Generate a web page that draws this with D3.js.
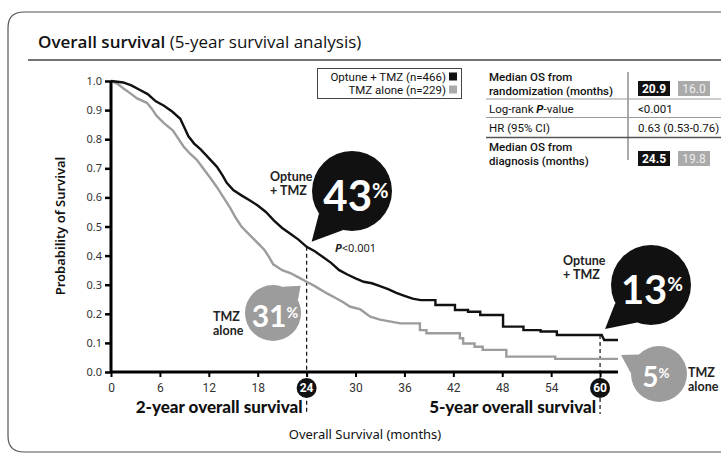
<!DOCTYPE html>
<html>
<head>
<meta charset="utf-8">
<script src="https://cdn.jsdelivr.net/npm/d3@7"></script>
<style>
  body { margin: 0; background: #fff; }
  svg { display: block; }
  .narrow { font-family: Roboto, "DejaVu Sans Condensed", sans-serif; }
</style>
</head>
<body>
<div id="chart"></div>
<script>
// Kaplan-Meier curves (months, survival probability)
const optuneMonths = [0, 1.5, 2.5, 3.5, 4.5, 5.5, 6.5, 7.5, 8.5, 9.0, 9.5, 10.2, 11, 12, 13, 13.7, 14.2, 15, 16, 17, 18, 19, 20, 21, 22, 23, 24, 25, 26, 27, 28, 29, 30, 31, 32, 33, 34, 35, 36, 37, 38, 39.8, 39.8, 42.2, 42.2, 43.8, 43.8, 45.3, 45.3, 48.1, 48.1, 50.6, 50.6, 52.7, 52.7, 54.7, 54.7, 60.2, 60.5, 62.2];
const optuneSurv = [1.0, 0.995, 0.985, 0.97, 0.955, 0.93, 0.915, 0.895, 0.87, 0.84, 0.81, 0.785, 0.765, 0.735, 0.705, 0.675, 0.65, 0.625, 0.607, 0.59, 0.572, 0.55, 0.52, 0.495, 0.475, 0.455, 0.43, 0.415, 0.395, 0.375, 0.35, 0.335, 0.322, 0.31, 0.305, 0.295, 0.285, 0.272, 0.262, 0.252, 0.247, 0.247, 0.23, 0.23, 0.213, 0.213, 0.207, 0.207, 0.196, 0.196, 0.156, 0.156, 0.144, 0.144, 0.139, 0.139, 0.127, 0.127, 0.11, 0.11];

const tmzMonths = [0, 0.8, 1.5, 2.5, 3.2, 4.4, 5.0, 5.6, 6.5, 7.6, 8.3, 8.9, 9.7, 10.5, 11.3, 12.1, 13, 13.8, 14.6, 15.3, 16, 16.7, 17.4, 18.1, 18.8, 19.4, 19.9, 21, 22, 23, 24, 25, 26.5, 27.5, 28.5, 29.3, 30.6, 31.8, 33, 35.5, 37.9, 37.9, 38.7, 38.7, 42.8, 42.8, 43.2, 43.2, 44.6, 44.6, 45.6, 45.6, 48.5, 48.5, 54.5, 54.5, 62.2];
const tmzSurv = [1.0, 0.99, 0.975, 0.955, 0.94, 0.925, 0.905, 0.88, 0.855, 0.83, 0.8, 0.775, 0.75, 0.73, 0.7, 0.67, 0.635, 0.6, 0.565, 0.53, 0.5, 0.48, 0.46, 0.44, 0.42, 0.395, 0.37, 0.35, 0.34, 0.325, 0.31, 0.295, 0.27, 0.255, 0.24, 0.225, 0.215, 0.19, 0.18, 0.167, 0.167, 0.144, 0.144, 0.133, 0.133, 0.116, 0.116, 0.098, 0.098, 0.087, 0.087, 0.076, 0.076, 0.053, 0.053, 0.045, 0.045];

const xTicks = [0, 6, 12, 18, 24, 30, 36, 42, 48, 54, 60];
const yTicks = [0, 0.1, 0.2, 0.3, 0.4, 0.5, 0.6, 0.7, 0.8, 0.9, 1.0];
const markedMonths = [24, 60];
const seriesNames = ["Optune + TMZ (n=466)", "TMZ alone (n=229)"];

// summary table
const tableLabels = [["Median OS from", "randomization (months)"], ["Log-rank P-value"], ["HR (95% CI)"], ["Median OS from", "diagnosis (months)"]];
const medianRandom = [20.9, 16.0];
const medianDiagnosis = [24.5, 19.8];
const logRankP = "<0.001";
const hazardRatio = "0.63 (0.53-0.76)";

// landmark survival callouts
const landmark24 = [43, 31];
const landmark60 = [13, 5];

const [W, H] = [721, 457];
const black = "#111", gray = "#9c9c9c";

const svg = d3.select("#chart").append("svg")
    .attr("width", W)
    .attr("height", H)
    .style("font-family", "'Noto Sans', sans-serif");

// frame and title
svg.append("path")
    .attr("d", "M 730 12 H 24 Q 8 12 8 28 V 436 Q 8 452 24 452 H 730")
    .attr("fill", "none")
    .attr("stroke", "#555")
    .attr("stroke-width", 1.2);

const title = svg.append("text")
    .attr("x", 38)
    .attr("y", 48)
    .attr("fill", "#111")
    .style("font-family", "'Open Sans', sans-serif")
    .style("font-size", "17px");
title.append("tspan").attr("font-weight", 600).text("Overall survival");
title.append("tspan").text(" (5-year survival analysis)");

svg.append("line")
    .attr("x1", 28).attr("x2", 721)
    .attr("y1", 60).attr("y2", 60)
    .attr("stroke", "#444")
    .attr("stroke-width", 1.3);

// scales
const x = d3.scaleLinear().domain([0, 62.2]).range([111, 618]);
const y = d3.scaleLinear().domain([0, 1]).range([372, 81]);

// dashed landmark lines
svg.append("line")
    .attr("x1", x(24)).attr("x2", x(24))
    .attr("y1", y(0.43)).attr("y2", 414)
    .attr("stroke", black).attr("stroke-width", 1.2)
    .attr("stroke-dasharray", "4,3");
svg.append("line")
    .attr("x1", x(60)).attr("x2", x(60))
    .attr("y1", y(0.127)).attr("y2", 414)
    .attr("stroke", black).attr("stroke-width", 1.2)
    .attr("stroke-dasharray", "4,3");

// curves
const line = d3.line()
    .x(d => x(d[0]))
    .y(d => y(d[1]));

svg.append("path")
    .datum(tmzMonths.map((m, i) => [m, tmzSurv[i]]))
    .attr("d", line)
    .attr("fill", "none")
    .attr("stroke", gray)
    .attr("stroke-width", 2.4);

svg.append("path")
    .datum(optuneMonths.map((m, i) => [m, optuneSurv[i]]))
    .attr("d", line)
    .attr("fill", "none")
    .attr("stroke", black)
    .attr("stroke-width", 2.4);

// axes
const yAxis = svg.append("g")
    .attr("transform", `translate(${x(0)},0)`)
    .call(d3.axisLeft(y).tickValues(yTicks).tickFormat(d3.format(".1f")).tickSize(6).tickPadding(3));
yAxis.select(".domain").attr("stroke-width", 3).attr("d", `M0,${y(1)}V${y(0)}`);
yAxis.selectAll(".tick line").attr("stroke-width", 2.5);
yAxis.selectAll(".tick text")
    .style("font-family", "'Noto Sans', sans-serif")
    .style("font-size", "11px")
    .attr("fill", "#333");

const xAxis = svg.append("g")
    .attr("transform", `translate(0,${y(0)})`)
    .call(d3.axisBottom(x).tickValues(xTicks).tickSize(5).tickPadding(6));
xAxis.select(".domain").attr("stroke-width", 3).attr("d", `M${x(0)},0H${x(62.2)}`);
xAxis.selectAll(".tick line").attr("stroke-width", 2);
xAxis.selectAll(".tick text")
    .attr("class", "narrow")
    .style("font-size", "12px")
    .attr("fill", "#333")
    .text(d => markedMonths.includes(d) ? "" : d);

// circled 24 and 60 tick labels
const marks = svg.selectAll("g.mark")
    .data(markedMonths)
    .enter()
    .append("g")
    .attr("class", "mark")
    .attr("transform", d => `translate(${x(d)},${y(0) + 16})`);
marks.append("circle").attr("r", 10).attr("fill", black);
marks.append("text")
    .attr("class", "narrow")
    .attr("text-anchor", "middle")
    .attr("dy", "0.35em")
    .attr("fill", "#fff")
    .attr("font-weight", 700)
    .style("font-size", "12px")
    .text(d => d);

// axis titles
svg.append("text")
    .attr("transform", "translate(65,226) rotate(-90)")
    .attr("text-anchor", "middle")
    .attr("font-weight", 600)
    .style("font-size", "13px")
    .attr("fill", "#111")
    .text("Probability of Survival");

svg.append("text")
    .attr("x", 365).attr("y", 439)
    .attr("text-anchor", "middle")
    .style("font-size", "13px")
    .attr("fill", "#111")
    .text("Overall Survival (months)");

[24, 60].forEach(m => {
    svg.append("text")
        .attr("x", x(m) - 4).attr("y", 413)
        .attr("text-anchor", "end")
        .attr("font-weight", 900)
        .style("font-family", "Lato, sans-serif")
        .style("font-size", "17px")
        .attr("fill", "#111")
        .text(m == 24 ? "2-year overall survival" : "5-year overall survival");
});

// legend
const legend = svg.append("g").attr("class", "narrow");
legend.append("rect")
    .attr("x", 317.5).attr("y", 68.5)
    .attr("width", 144).attr("height", 30)
    .attr("fill", "#fff")
    .attr("stroke", "#444");
seriesNames.forEach((name, i) => {
    legend.append("text")
        .attr("x", 446).attr("y", 81 + i * 13)
        .attr("text-anchor", "end")
        .style("font-size", "11.5px")
        .attr("fill", "#111")
        .text(name);
    legend.append("rect")
        .attr("x", 449).attr("y", 72.5 + i * 13)
        .attr("width", 8).attr("height", 8)
        .attr("fill", i == 0 ? black : "#aaa");
});

// summary table
const table = svg.append("g").attr("class", "narrow").style("font-size", "11.5px");
table.append("line")
    .attr("x1", 628).attr("x2", 628).attr("y1", 72).attr("y2", 160)
    .attr("stroke", "#555");
[[99, "#999", 1], [117.5, "#999", 1], [137.5, "#555", 1.4]].forEach(([ly, c, sw]) => {
    table.append("line")
        .attr("x1", 486).attr("x2", 721).attr("y1", ly).attr("y2", ly)
        .attr("stroke", c).attr("stroke-width", sw);
});
const labelBase = [[81, 95], [112.5], [131.5], [151, 165]];
tableLabels.forEach((lines, r) => {
    lines.forEach((t, k) => {
        const txt = table.append("text")
            .attr("x", 489).attr("y", labelBase[r][k])
            .attr("fill", "#111")
            .attr("font-weight", (r == 0 || r == 3) ? 500 : 400);
        if (t.includes("P-value")) {
            txt.append("tspan").text("Log-rank ");
            txt.append("tspan").attr("font-weight", 700).attr("font-style", "italic").text("P");
            txt.append("tspan").text("-value");
        } else {
            txt.text(t);
        }
    });
});
[[medianRandom, 81], [medianDiagnosis, 151]].forEach(([vals, top]) => {
    vals.forEach((v, i) => {
        table.append("rect")
            .attr("x", 638 + i * 40).attr("y", top)
            .attr("width", 32).attr("height", 15)
            .attr("fill", i == 0 ? black : "#aaa");
        table.append("text")
            .attr("x", 654 + i * 40).attr("y", top + 11.5)
            .attr("text-anchor", "middle")
            .attr("fill", i == 0 ? "#fff" : "#eee")
            .attr("font-weight", i == 0 ? 700 : 400)
            .style("font-size", "12px")
            .text(d3.format(".1f")(v));
    });
});
table.append("text").attr("x", 638).attr("y", 112.5).attr("fill", "#111").text(logRankP);
table.append("text").attr("x", 638).attr("y", 131.5).attr("fill", "#111").text(hazardRatio);

// speech bubbles
function bubble(cx, cy, r, tip, fill, value, size, dx) {
    const g = svg.append("g");
    const a = Math.atan2(tip[1] - cy, tip[0] - cx);
    const p1 = [cx + r * Math.cos(a - 0.45), cy + r * Math.sin(a - 0.45)];
    const p2 = [cx + r * Math.cos(a + 0.3), cy + r * Math.sin(a + 0.3)];
    g.append("path")
        .attr("d", `M${p1[0]},${p1[1]}L${tip[0]},${tip[1]}L${p2[0]},${p2[1]}Z`)
        .attr("fill", fill);
    g.append("circle").attr("cx", cx).attr("cy", cy).attr("r", r).attr("fill", fill);
    const t = g.append("text")
        .attr("x", cx + dx).attr("y", cy + size * 0.48)
        .attr("text-anchor", "middle")
        .attr("fill", "#fff")
        .attr("font-weight", 700)
        .style("font-family", "Lato, sans-serif")
        .style("font-size", size + "px");
    t.append("tspan").text(value);
    t.append("tspan")
        .attr("dy", -size * 0.32)
        .style("font-size", (size * 0.48) + "px")
        .text("%");
    return g;
}

function label(xp, yp, lines) {
    const t = svg.append("text")
        .attr("x", xp).attr("y", yp)
        .attr("font-weight", 700)
        .style("font-family", "Lato, sans-serif")
        .style("font-size", "12.5px")
        .attr("fill", "#222");
    lines.forEach((l, i) => t.append("tspan").attr("x", xp).attr("dy", i ? 14 : 0).text(l));
}

bubble(352, 191, 40, [x(24) + 5, y(0.43) - 5], black, landmark24[0], 42, 4);
label(270, 181, ["Optune", "+ TMZ"]);
const pText = svg.append("text").attr("x", 335).attr("y", 252).style("font-size", "11px").attr("fill", "#222");
pText.append("tspan").attr("font-style", "italic").attr("font-weight", 700).text("P");
pText.append("tspan").text("<0.001");

bubble(273, 313, 28, [x(24) - 6, y(0.31) + 4], gray, landmark24[1], 30, 2);
label(213, 321, ["TMZ", "alone"]);

bubble(651, 285, 40, [x(60) + 5, y(0.127) - 6], black, landmark60[0], 40, 1);
label(563, 265, ["Optune", "+ TMZ"]);

bubble(659, 374, 28, [x(62.2) + 3, y(0.045) - 4], gray, landmark60[1], 28, -3);
label(688, 377, ["TMZ", "alone"]);
</script>
</body>
</html>
